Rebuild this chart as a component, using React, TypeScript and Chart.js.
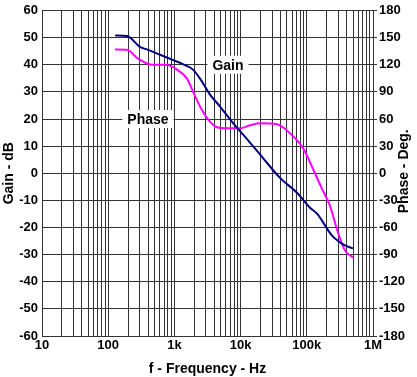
import { useEffect, useRef } from 'react';
import { Chart, registerables } from 'chart.js';

Chart.register(...registerables);

const FONT = '"Liberation Sans", Arial, Helvetica, sans-serif';

// Gain curve (Hz, dB)
const gainFreq = [127, 192, 302, 399, 606, 920, 1446, 1910, 2437, 3451, 4887, 6920, 9800, 12500, 21800, 39400, 71100, 111700, 142700, 240400, 317700, 377800, 499000];
const gainDb = [50.8, 50.6, 46.6, 45.5, 43.7, 41.9, 39.9, 38.2, 34.9, 29.0, 24.6, 19.9, 15.5, 12.6, 5.6, -1.7, -7.2, -12.7, -14.9, -23.0, -25.5, -26.6, -27.7];

// Phase curve (Hz, degrees)
const phaseFreq = [127, 192, 282, 459, 721, 859, 1095, 1549, 1910, 2437, 3221, 4406, 6237, 9800, 13870, 19640, 35470, 55720, 87700, 124200, 169800, 224000, 296000, 377800, 499000];
const phaseDeg = [136.9, 136.6, 126.7, 120.1, 120.1, 119.0, 114.6, 104.7, 90.4, 73.9, 59.6, 50.8, 49.7, 49.7, 53.0, 55.2, 54.1, 44.2, 27.8, 4.7, -17.3, -36.0, -65.7, -85.5, -93.2];

// X axis decade ticks
const decadeValues = [10, 100, 1000, 10000, 100000, 1000000];
const decadeLabels = ['10', '100', '1k', '10k', '100k', '1M'];
const minorMultipliers = [1, 2, 3, 4, 5, 6, 7, 8, 9];

// Annotation labels: [text, frequency, gain dB]
const annotations: [string, number, number][] = [
  ['Gain', 6450, 40],
  ['Phase', 398, 20],
];

const GRID = '#333333';

export default function App() {
  const ref = useRef<HTMLCanvasElement>(null);

  useEffect(() => {
    const labelPlugin = {
      id: 'labels',
      beforeDatasetsDraw(chart: any) {
        const ctx = chart.ctx;
        const xs = chart.scales.x;
        const ys = chart.scales.y;
        ctx.save();
        ctx.font = `bold 14px ${FONT}`;
        ctx.textAlign = 'center';
        ctx.textBaseline = 'middle';
        for (const [text, f, g] of annotations) {
          const px = xs.getPixelForValue(f);
          const py = ys.getPixelForValue(g);
          const w = ctx.measureText(text).width;
          ctx.fillStyle = '#ffffff';
          ctx.fillRect(px - w / 2 - 5, py - 9, w + 10, 18);
          ctx.fillStyle = '#000000';
          ctx.fillText(text, px, py + 1);
        }
        ctx.restore();
      },
      afterDraw(chart: any) {
        const ctx = chart.ctx;
        const a = chart.chartArea;
        ctx.save();
        ctx.fillStyle = '#000';
        ctx.font = `bold 14px ${FONT}`;
        ctx.textAlign = 'center';
        ctx.textBaseline = 'middle';
        ctx.fillText('f - Frequency - Hz', (a.left + a.right) / 2, 369);
        const cy = (a.top + a.bottom) / 2;
        ctx.save();
        ctx.translate(9, cy);
        ctx.rotate(-Math.PI / 2);
        ctx.fillText('Gain - dB', 0, 0);
        ctx.restore();
        ctx.save();
        ctx.translate(404, cy - 2);
        ctx.rotate(-Math.PI / 2);
        ctx.fillText('Phase - Deg.', 0, 0);
        ctx.restore();
        ctx.restore();
      },
    };

    const chart = new Chart(ref.current!, {
      type: 'line',
      data: {
        datasets: [
          {
            label: 'Gain',
            data: gainFreq.map((f, i) => ({ x: f, y: gainDb[i] })),
            borderColor: '#000080',
            borderWidth: 2,
            pointRadius: 0,
            cubicInterpolationMode: 'monotone',
            yAxisID: 'y',
          },
          {
            label: 'Phase',
            data: phaseFreq.map((f, i) => ({ x: f, y: phaseDeg[i] })),
            borderColor: '#ff00ff',
            borderWidth: 2,
            pointRadius: 0,
            cubicInterpolationMode: 'monotone',
            yAxisID: 'y2',
          },
        ],
      },
      options: {
        animation: false,
        responsive: false,
        maintainAspectRatio: false,
        layout: { padding: { top: 8.5, left: 0, right: 0, bottom: 0 } },
        plugins: { legend: { display: false }, tooltip: { enabled: false } },
        scales: {
          x: {
            type: 'logarithmic',
            position: 'bottom',
            min: 10,
            max: 1000000,
            afterBuildTicks: (s: any) => {
              const t: any[] = [];
              for (let d = 0; d < decadeValues.length - 1; d++) {
                for (const m of minorMultipliers) t.push({ value: decadeValues[d] * m });
              }
              t.push({ value: decadeValues[decadeValues.length - 1] });
              s.ticks = t;
            },
            afterFit: (s: any) => {
              s.height = 41;
            },
            ticks: {
              autoSkip: false,
              maxRotation: 0,
              padding: 3,
              color: '#000',
              font: { family: FONT, size: 13, weight: 'bold', lineHeight: 1 },
              callback: (v: any) => {
                const i = decadeValues.indexOf(Number(v));
                return i >= 0 ? decadeLabels[i] : '';
              },
            },
            grid: { color: GRID, drawTicks: false },
            border: { color: GRID },
          },
          y: {
            position: 'left',
            min: -60,
            max: 60,
            afterFit: (s: any) => {
              s.width = 42;
            },
            ticks: {
              stepSize: 10,
              padding: 4,
              color: '#000',
              font: { family: FONT, size: 13, weight: 'bold', lineHeight: 1 },
            },
            grid: { color: GRID, drawTicks: false },
            border: { color: GRID },
          },
          y2: {
            position: 'right',
            min: -180,
            max: 180,
            afterFit: (s: any) => {
              s.width = 44;
            },
            ticks: {
              stepSize: 30,
              padding: 2,
              color: '#000',
              font: { family: FONT, size: 13, weight: 'bold', lineHeight: 1 },
            },
            grid: { color: GRID, drawOnChartArea: false, tickLength: 4 },
            border: { color: GRID },
          },
        },
      } as any,
      plugins: [labelPlugin],
    });
    return () => chart.destroy();
  }, []);

  return (
    <div style={{ position: 'fixed', left: 0, top: 0, width: 417, height: 377, background: '#fff' }}>
      <canvas ref={ref} width={417} height={377} style={{ display: 'block' }} />
    </div>
  );
}
